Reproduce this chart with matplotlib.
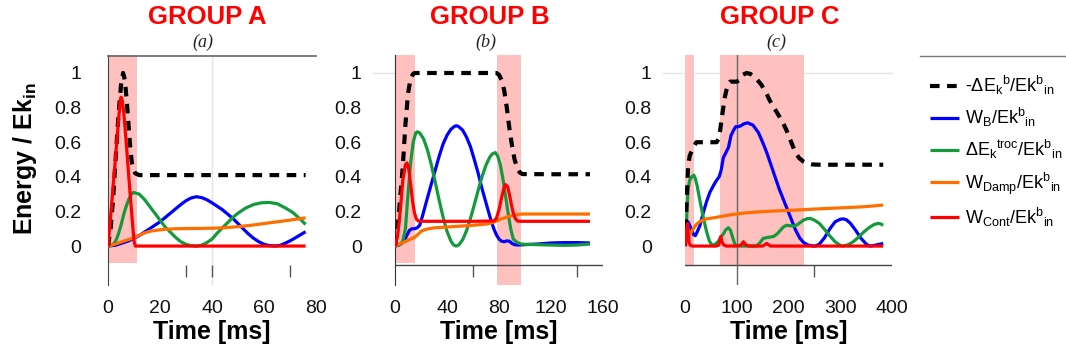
"""Energy balance curves for three impact groups, normalised by input kinetic energy."""

import matplotlib

matplotlib.use("Agg")
import matplotlib.pyplot as plt
from matplotlib.lines import Line2D

plt.rcParams["font.family"] = ["Liberation Sans", "DejaVu Sans"]
plt.rcParams["mathtext.fontset"] = "custom"
plt.rcParams["mathtext.rm"] = "Liberation Sans"
plt.rcParams["mathtext.it"] = "Liberation Sans:italic"
plt.rcParams["mathtext.bf"] = "Liberation Sans:bold"
plt.rcParams["mathtext.default"] = "regular"

# ---------------------------------------------------------------- data
TITLES = ["GROUP A", "GROUP B", "GROUP C"]
SUBTITLES = ["(a)", "(b)", "(c)"]
XLIMS = [80, 160, 400]
XTICKS = [[0, 20, 40, 60, 80], [0, 40, 80, 120, 160], [0, 100, 200, 300, 400]]
YTICKS = [0, 0.2, 0.4, 0.6, 0.8, 1]
YTICK_LABELS = ["0", "0.2", "0.4", "0.6", "0.8", "1"]
# shaded time windows (start, end) per panel
WINDOWS = [[(0, 11)], [(0, 15.6), (78.5, 96.7)], [(0, 17), (67.6, 230)]]
STRAY_TICKS = [[30, 40, 70], [60, 140], [250]]

LABELS = [
    r"-$\Delta$E$_k$$^b$/Ek$^b$$_{in}$",
    r"W$_B$/Ek$^b$$_{in}$",
    r"$\Delta$E$_k$$^{troc}$/Ek$^b$$_{in}$",
    r"W$_{Damp}$/Ek$^b$$_{in}$",
    r"W$_{Cont}$/Ek$^b$$_{in}$",
]

# group A
a_dek_t = [0, 1, 2, 3, 4, 5, 5.8, 6.5, 7.3, 8, 8.6, 9.2, 9.8, 10.5, 12, 20, 40, 60, 76]
a_dek_v = [0, 0.1, 0.28, 0.52, 0.75, 0.93, 1.0, 0.96, 0.82, 0.68, 0.56, 0.48, 0.44, 0.42,
           0.41, 0.41, 0.41, 0.41, 0.41]
a_wb_t = [0, 3, 6, 8, 10, 12, 14, 16, 18, 20, 22, 24, 26, 28, 30, 32, 34, 36, 38, 40, 42,
          44, 46, 48, 50, 52, 54, 56, 58, 60, 62, 64, 66, 68, 70, 72, 74, 76]
a_wb_v = [0, 0.005, 0.02, 0.03, 0.045, 0.06, 0.08, 0.1, 0.12, 0.14, 0.165, 0.19, 0.215,
          0.24, 0.262, 0.278, 0.285, 0.28, 0.268, 0.25, 0.23, 0.21, 0.185, 0.16, 0.13, 0.1,
          0.07, 0.045, 0.025, 0.01, 0.003, 0.0, 0.003, 0.015, 0.03, 0.047, 0.065, 0.083]
a_tr_t = [0, 2, 3, 4, 5, 6, 7, 8, 9, 9.8, 12, 14, 16, 18, 20, 22, 24, 26, 28, 30, 32, 34,
          36, 38, 40, 42, 44, 46, 48, 50, 53, 56, 59, 62, 65, 68, 71, 74, 76]
a_tr_v = [0, 0.01, 0.03, 0.07, 0.12, 0.18, 0.23, 0.27, 0.3, 0.31, 0.3, 0.27, 0.23, 0.19,
          0.15, 0.11, 0.08, 0.05, 0.025, 0.01, 0.002, 0, 0.005, 0.02, 0.04, 0.075, 0.105,
          0.135, 0.165, 0.19, 0.22, 0.24, 0.25, 0.252, 0.245, 0.222, 0.195, 0.155, 0.125]
a_damp_t = [0, 2, 4, 6, 8, 10, 12, 14, 16, 19, 22, 26, 30, 35, 40, 45, 50, 55, 60, 65, 70, 76]
a_damp_v = [0, 0.008, 0.018, 0.028, 0.038, 0.048, 0.062, 0.075, 0.085, 0.092, 0.097, 0.1,
            0.101, 0.102, 0.103, 0.106, 0.112, 0.12, 0.13, 0.14, 0.15, 0.163]
a_cont_t = [0, 1, 2, 3, 4, 4.6, 5, 5.5, 6, 7, 8, 9, 10, 10.5, 20, 40, 60, 76]
a_cont_v = [0, 0.17, 0.35, 0.53, 0.72, 0.82, 0.86, 0.84, 0.78, 0.6, 0.4, 0.21, 0.03, 0,
            0, 0, 0, 0]

# group B
b_dek_t = [0, 2, 4, 6, 8, 10, 12, 14, 15, 40, 60, 78, 80, 82, 84, 86, 88, 90, 92, 94, 96,
           98, 120, 150]
b_dek_v = [0, 0.1, 0.28, 0.46, 0.7, 0.88, 0.97, 0.995, 1.0, 1.0, 1.0, 1.0, 0.99, 0.96,
           0.9, 0.8, 0.68, 0.58, 0.5, 0.45, 0.425, 0.416, 0.415, 0.415]
b_wb_t = [0, 3, 5, 7, 9, 11, 13, 15, 17, 19, 21, 23, 25, 28, 31, 34, 37, 40, 43, 46, 47.5,
          49, 52, 55, 58, 61, 64, 67, 70, 73, 76, 78, 80, 82, 84, 86, 88, 90, 92, 95, 100,
          110, 120, 130, 140, 150]
b_wb_v = [0, 0.005, 0.015, 0.03, 0.06, 0.09, 0.1, 0.1, 0.105, 0.12, 0.17, 0.225, 0.28,
          0.36, 0.44, 0.52, 0.59, 0.64, 0.675, 0.693, 0.695, 0.69, 0.67, 0.63, 0.575, 0.5,
          0.42, 0.33, 0.25, 0.17, 0.1, 0.065, 0.04, 0.028, 0.025, 0.03, 0.028, 0.015, 0.008,
          0.006, 0.008, 0.012, 0.018, 0.02, 0.02, 0.018]
b_tr_t = [0, 4, 6, 8, 10, 12, 14, 16, 17.2, 19, 22, 25, 28, 31, 34, 37, 40, 43, 45, 47, 49,
          52, 55, 58, 61, 64, 67, 70, 73, 75, 77.2, 79, 81, 83, 85, 87, 89, 91, 94, 97, 100,
          110, 120, 130, 140, 150]
b_tr_v = [0, 0.01, 0.03, 0.1, 0.3, 0.48, 0.6, 0.655, 0.66, 0.654, 0.619, 0.555, 0.468,
          0.368, 0.264, 0.167, 0.085, 0.029, 0.007, 0, 0.006, 0.036, 0.088, 0.158, 0.239,
          0.323, 0.402, 0.468, 0.515, 0.533, 0.54, 0.52, 0.47, 0.39, 0.29, 0.19, 0.1, 0.04,
          0.02, 0.012, 0.01, 0.008, 0.006, 0.004, 0.006, 0.012]
b_damp_t = [0, 3, 6, 9, 12, 15, 18, 20, 23, 26, 30, 40, 50, 60, 70, 75, 78, 81, 84, 87, 90,
            93, 96, 98, 120, 150]
b_damp_v = [0, 0.01, 0.02, 0.03, 0.04, 0.05, 0.07, 0.085, 0.095, 0.1, 0.105, 0.11, 0.115,
            0.12, 0.127, 0.135, 0.145, 0.155, 0.162, 0.17, 0.176, 0.18, 0.184, 0.185, 0.185,
            0.185]
b_cont_t = [0, 2, 4, 6, 8, 9.2, 10.5, 12, 13.5, 15, 16.5, 18, 19.5, 40, 60, 76, 78, 80, 82,
            84, 85, 86.5, 88, 89.5, 91, 92.5, 94, 95.5, 120, 150]
b_cont_v = [0, 0.06, 0.2, 0.38, 0.47, 0.48, 0.45, 0.36, 0.26, 0.19, 0.155, 0.145, 0.143,
            0.143, 0.143, 0.145, 0.16, 0.21, 0.28, 0.34, 0.355, 0.345, 0.3, 0.24, 0.19, 0.16,
            0.146, 0.143, 0.143, 0.143]

# group C
c_dek_t = [0, 3, 6, 9, 13, 18, 22, 40, 61, 65, 68, 71, 74, 77, 80, 84, 87, 100, 106, 112,
           119, 126, 133, 140, 148, 156, 164, 172, 180, 188, 196, 204, 212, 220, 228, 236,
           245, 260, 300, 383]
c_dek_v = [0, 0.25, 0.46, 0.52, 0.55, 0.58, 0.6, 0.6, 0.6, 0.62, 0.67, 0.74, 0.8, 0.86,
           0.9, 0.94, 0.95, 0.95, 0.96, 0.99, 1.0, 0.995, 0.98, 0.96, 0.93, 0.89, 0.84, 0.8,
           0.76, 0.72, 0.67, 0.61, 0.55, 0.51, 0.49, 0.478, 0.472, 0.47, 0.47, 0.47]
c_wb_t = [0, 3, 6, 9, 13, 17, 20, 24, 29, 35, 42, 48, 55, 61, 66, 70, 74, 79, 84, 89, 94,
          98, 103, 108, 113, 118, 122, 126, 131, 136, 142, 150, 158, 166, 174, 182, 190,
          198, 206, 214, 222, 230, 238, 246, 252, 260, 270, 280, 290, 300, 306, 312, 320,
          330, 340, 350, 357, 365, 375, 383]
c_wb_v = [0, 0.1, 0.14, 0.12, 0.09, 0.065, 0.06, 0.085, 0.12, 0.19, 0.26, 0.31, 0.35,
          0.38, 0.4, 0.44, 0.51, 0.54, 0.57, 0.64, 0.67, 0.69, 0.69, 0.695, 0.705, 0.71,
          0.712, 0.705, 0.7, 0.68, 0.655, 0.6, 0.54, 0.47, 0.4, 0.33, 0.27, 0.21, 0.15, 0.09,
          0.045, 0.018, 0.006, 0.001, 0.0, 0.012, 0.05, 0.1, 0.14, 0.155, 0.157, 0.152, 0.13,
          0.09, 0.045, 0.012, 0.0, 0.003, 0.01, 0.015]
c_tr_t = [0, 3, 6, 9, 13, 17, 20, 24, 29, 35, 42, 47, 52, 58, 64, 69, 74, 79, 84, 88, 92,
          97, 105, 120, 138, 145, 151, 160, 171, 178, 184, 190, 196, 205, 213, 220, 229, 236,
          242, 250, 260, 270, 280, 290, 300, 305, 315, 325, 335, 345, 355, 365, 373, 378, 383]
c_tr_v = [0, 0.15, 0.33, 0.38, 0.4, 0.41, 0.39, 0.34, 0.26, 0.17, 0.08, 0.03, 0.005, 0.01,
          0.025, 0.05, 0.07, 0.095, 0.106, 0.09, 0.05, 0.006, 0, 0, 0, 0.02, 0.044, 0.05,
          0.055, 0.07, 0.09, 0.11, 0.12, 0.117, 0.116, 0.13, 0.15, 0.158, 0.16, 0.15, 0.13,
          0.095, 0.058, 0.025, 0.004, 0, 0.007, 0.025, 0.05, 0.08, 0.105, 0.124, 0.131, 0.128,
          0.12]
c_damp_t = [0, 3, 6, 10, 16, 22, 28, 35, 42, 55, 68, 80, 93, 106, 119, 135, 151, 170, 190,
            215, 245, 280, 310, 345, 365, 383]
c_damp_v = [0, 0.03, 0.05, 0.07, 0.1, 0.125, 0.14, 0.15, 0.157, 0.163, 0.17, 0.177, 0.183,
            0.188, 0.192, 0.196, 0.199, 0.202, 0.205, 0.208, 0.213, 0.218, 0.222, 0.227,
            0.232, 0.237]
c_cont_t = [0, 2, 4, 5, 6, 8, 10, 14, 20, 40, 60, 65, 67, 69, 71, 74, 80, 100, 108, 113,
            118, 125, 150, 158, 165, 200, 300, 383]
c_cont_v = [0, 0.05, 0.12, 0.13, 0.08, 0.02, 0.005, 0, 0, 0, 0, 0.005, 0.03, 0.055, 0.03,
            0.008, 0, 0, 0.005, 0.025, 0.005, 0, 0, 0.015, 0, 0, 0, 0]

PANELS = [
    [(a_dek_t, a_dek_v), (a_wb_t, a_wb_v), (a_tr_t, a_tr_v), (a_damp_t, a_damp_v),
     (a_cont_t, a_cont_v)],
    [(b_dek_t, b_dek_v), (b_wb_t, b_wb_v), (b_tr_t, b_tr_v), (b_damp_t, b_damp_v),
     (b_cont_t, b_cont_v)],
    [(c_dek_t, c_dek_v), (c_wb_t, c_wb_v), (c_tr_t, c_tr_v), (c_damp_t, c_damp_v),
     (c_cont_t, c_cont_v)],
]

# ---------------------------------------------------------------- style
COLORS = ["black", "#0000ff", "#149a3a", "#ff6f00", "#ff0000"]
ZORDERS = [4, 3, 3, 3.5, 5]
SHADE = "#ffc0c0"
YMIN, YMAX = -0.225, 1.104
W, H = 1066, 358

fig = plt.figure(figsize=(W / 100, H / 100), dpi=100)

# axes boxes in pixels: left, width
boxes = [(108, 208), (395, 208), (685, 207)]
shade_bottoms = [[-0.1], [-0.1, -0.225], [-0.11, -0.11]]
ylabel_pad = [19, 24, 24]
title_x = [0.476, 0.457, 0.459]

axes = []
for i, (left, width) in enumerate(boxes):
    ax = fig.add_axes([left / W, 73 / H, width / W, 230 / H])
    axes.append(ax)
    ax.set_xlim(0, XLIMS[i])
    ax.set_ylim(YMIN, YMAX)
    for (x0, x1), yb in zip(WINDOWS[i], shade_bottoms[i]):
        ax.axvspan(x0, x1, ymin=(yb - YMIN) / (YMAX - YMIN), ymax=1,
                   color=SHADE, lw=0, zorder=1)
    for k, (t, v) in enumerate(PANELS[i]):
        if k == 0:
            ax.plot(t, v, color=COLORS[k], lw=3.0, dashes=(2.3, 1.8),
                    zorder=ZORDERS[k], label=LABELS[k])
        else:
            ax.plot(t, v, color=COLORS[k], lw=2.3, zorder=ZORDERS[k],
                    solid_capstyle="butt", label=LABELS[k])

    for side in ["top", "right", "bottom", "left"]:
        ax.spines[side].set_visible(False)
    ax.set_xticks(XTICKS[i])
    ax.set_xticklabels([str(x) for x in XTICKS[i]])
    ax.set_yticks(YTICKS)
    ax.set_yticklabels(YTICK_LABELS)
    ax.tick_params(axis="x", length=0, pad=11, labelsize=14, labelcolor="#111111")
    ax.tick_params(axis="y", length=0, pad=ylabel_pad[i], labelsize=14,
                   labelcolor="#111111")
    ax.vlines(STRAY_TICKS[i], -0.18, -0.11, color="#555555", lw=1, zorder=2)
    ax.set_xlabel("Time [ms]", fontsize=18, fontweight="bold", labelpad=2)

    ax.text(title_x[i], 1.0 + 38 / 230, TITLES[i], transform=ax.transAxes,
            ha="center", va="center", color="#ff0000", fontsize=18.5,
            fontweight="bold")
    ax.text(title_x[i] - 0.02, 1.0 + 13 / 230, SUBTITLES[i], transform=ax.transAxes,
            ha="center", va="center", color="#222222", fontsize=13,
            family="Liberation Serif", style="italic")

ax_a, ax_b, ax_c = axes
ax_a.spines["left"].set_visible(True)
ax_a.spines["left"].set_color("#444444")
ax_a.axvline(40, color="#e4e4e4", lw=1, zorder=0.5)

ax_b.spines["left"].set_visible(True)
ax_b.spines["left"].set_color("#333333")
ax_b.axhline(-0.11, color="#444444", lw=1, zorder=2)
ax_b.axhline(1, xmin=-0.106, xmax=0.1, color="#e6e6e6", lw=1, zorder=0.5, clip_on=False)

ax_c.axhline(-0.11, color="#444444", lw=1, zorder=2)
ax_c.axvline(100, color="#666666", lw=1, zorder=2)
ax_c.axhline(1, xmin=-0.106, xmax=1, color="#e6e6e6", lw=1, zorder=0.5, clip_on=False)

fig.text(25 / W, 1 - 159 / H, r"Energy / Ek$_\mathbf{in}$", rotation=90, ha="center",
         va="center", fontsize=18, fontweight="bold")

# grey rules above panel A and above the legend
rule_y = 1 - 55.5 / H
fig.add_artist(Line2D([108 / W, 316 / W], [rule_y, rule_y], color="#666666", lw=1.2,
                      zorder=10))
fig.add_artist(Line2D([920 / W, 1.0], [rule_y, rule_y], color="#777777", lw=1))

handles, labels = ax_a.get_legend_handles_labels()
fig.legend(handles, labels, loc="upper left", bbox_to_anchor=(930 / W, 1 - 74 / H),
           frameon=False, fontsize=13, handlelength=1.6, handletextpad=0.35,
           labelspacing=0.5, borderpad=0, borderaxespad=0)

fig.savefig("out.png", dpi=100)
